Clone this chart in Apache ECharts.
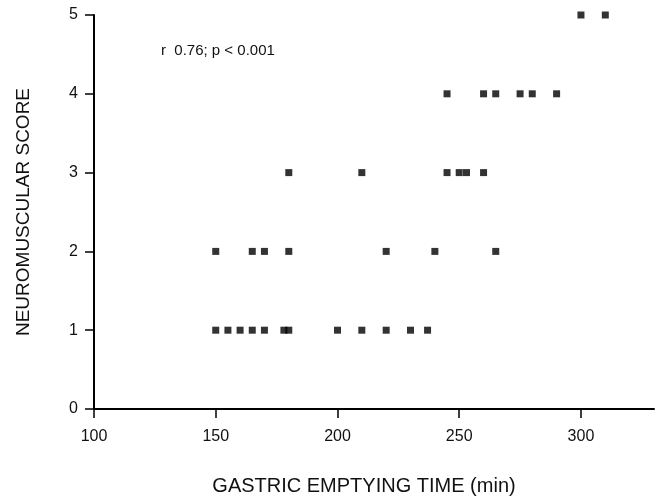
<!DOCTYPE html>
<html>
<head>
<meta charset="utf-8">
<script src="https://cdn.jsdelivr.net/npm/echarts@6/dist/echarts.min.js"></script>
<style>
  html, body { margin: 0; padding: 0; background: #fff; }
  #chart { width: 660px; height: 499px; }
</style>
</head>
<body>
<div id="chart"></div>
<script>
// Gastric emptying time (min) for each patient, grouped by neuromuscular score
const score1Times = [150, 155, 160, 165, 170, 178, 180, 200, 210, 220, 230, 237];
const score2Times = [150, 165, 170, 180, 220, 240, 265];
const score3Times = [180, 210, 245, 250, 253, 260];
const score4Times = [245, 260, 265, 275, 280, 290];
const score5Times = [300, 310];

const xTicks = [100, 150, 200, 250, 300];
const yTicks = [0, 1, 2, 3, 4, 5];
const annotation = 'r  0.76; p < 0.001';

const groups = [
  [1, score1Times], [2, score2Times], [3, score3Times], [4, score4Times], [5, score5Times]
];
const points = [];
groups.forEach(([score, times]) => times.forEach(t => points.push([t, score])));

const chart = echarts.init(document.getElementById('chart'), null, { renderer: 'canvas' });
const font = 'Liberation Sans, Arial, Helvetica, sans-serif';

chart.setOption({
  animation: false,
  backgroundColor: '#fff',
  grid: { left: 94, right: 6, top: 15, bottom: 90, containLabel: false, outerBoundsMode: 'none' },
  xAxis: {
    type: 'value',
    min: 100,
    max: 330,
    interval: 50,
    name: 'GASTRIC EMPTYING TIME (min)',
    nameLocation: 'middle',
    nameGap: 67,
    nameTextStyle: { fontFamily: font, fontSize: 20, color: '#111', padding: [0, 20, 0, 0] },
    axisLine: { show: true, onZero: false, lineStyle: { color: '#000', width: 2 } },
    axisTick: { show: true, inside: false, length: 9, customValues: xTicks, lineStyle: { color: '#000', width: 1.5 } },
    axisLabel: { customValues: xTicks, margin: 20, fontFamily: font, fontSize: 16, color: '#111' },
    splitLine: { show: false }
  },
  yAxis: {
    type: 'value',
    min: 0,
    max: 5,
    interval: 1,
    name: 'NEUROMUSCULAR SCORE',
    nameLocation: 'middle',
    nameGap: 61,
    nameTextStyle: { fontFamily: font, fontSize: 19, color: '#111' },
    axisLine: { show: true, onZero: false, lineStyle: { color: '#000', width: 2 } },
    axisTick: { show: true, inside: false, length: 9, customValues: yTicks, lineStyle: { color: '#000', width: 1.5 } },
    axisLabel: { customValues: yTicks, margin: 16, fontFamily: font, fontSize: 16, color: '#111' },
    splitLine: { show: false }
  },
  graphic: [{
    type: 'text',
    left: 161,
    top: 43,
    style: { text: annotation, font: '15px ' + font, fill: '#111' }
  }],
  series: [{
    type: 'scatter',
    data: points,
    symbol: 'rect',
    symbolSize: 7,
    itemStyle: { color: '#000' }
  }]
});
</script>
</body>
</html>
